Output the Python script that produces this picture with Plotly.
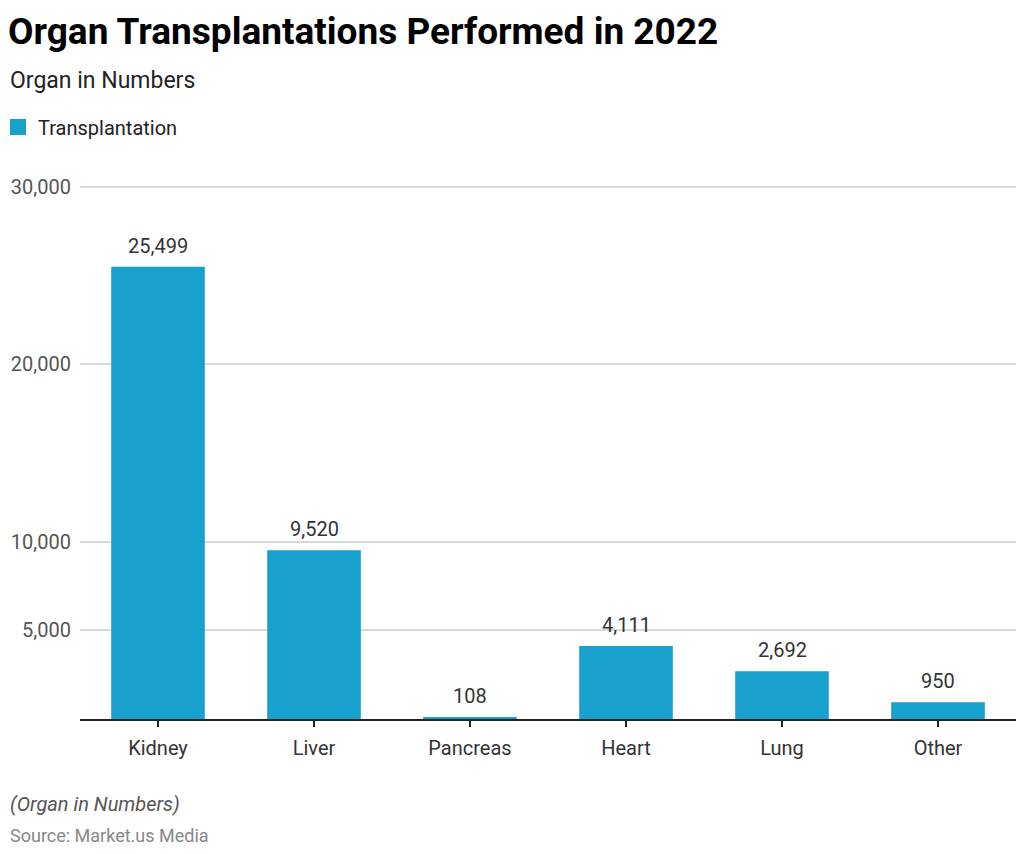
import plotly.graph_objects as go

categories = ["Kidney", "Liver", "Pancreas", "Heart", "Lung", "Other"]
values = [25499, 9520, 108, 4111, 2692, 950]
tick_vals = [5000, 10000, 20000, 30000]
tick_text = ["5,000", "10,000", "20,000", "30,000"]
y_max = 30000

BAR = "#19a1cd"
W, H = 1024, 854
HEAD = 3  # px of headroom above the top gridline
ML, MR, MT, MB = 80, 8, 187 - HEAD, 135
PW = W - ML - MR
PH = H - MT - MB
y_top = y_max * (1 + HEAD / (H - MB - 187))

def px_x(px):
    return (px - ML) / PW

def px_y(py):
    return (H - MB - py) / PH

fig = go.Figure()
fig.add_trace(go.Bar(
    x=categories, y=values, name="Transplantation",
    marker=dict(color=BAR, line=dict(width=0)),
    showlegend=False,
))
fig.add_trace(go.Scatter(
    x=[None], y=[None], mode="markers", name="Transplantation",
    marker=dict(symbol="square", size=16, color=BAR),
    showlegend=True, hoverinfo="skip",
))

for c, v in zip(categories, values):
    fig.add_annotation(x=c, y=v, xref="x", yref="y", text=f"{v:,}",
                       showarrow=False, yanchor="bottom", yshift=7,
                       font=dict(family="Roboto", size=20, color="#333333"))

fig.add_annotation(xref="paper", yref="paper", x=px_x(8), y=px_y(81),
                   xanchor="left", yanchor="middle", showarrow=False,
                   text="Organ in Numbers",
                   font=dict(family="Roboto", size=23, color="#222222"))
fig.add_annotation(xref="paper", yref="paper", x=px_x(8), y=px_y(804),
                   xanchor="left", yanchor="middle", showarrow=False,
                   text="<i>(Organ in Numbers)</i>",
                   font=dict(family="Roboto", size=20, color="#555555"))
fig.add_annotation(xref="paper", yref="paper", x=px_x(8), y=px_y(835),
                   xanchor="left", yanchor="middle", showarrow=False,
                   text="Source: Market.us Media",
                   font=dict(family="Roboto", size=18, color="#888888"))

fig.update_layout(
    width=W, height=H,
    margin=dict(l=ML, r=MR, t=MT, b=MB, autoexpand=False),
    paper_bgcolor="white", plot_bgcolor="white",
    font=dict(family="Roboto", color="#333333"),
    title=dict(text="<b>Organ Transplantations Performed in 2022</b>",
               x=8 / W, xanchor="left", xref="container",
               y=1 - 31 / H, yanchor="middle", yref="container",
               pad=dict(l=0, r=0, t=0, b=0),
               font=dict(family="Roboto", size=37, color="#000000")),
    bargap=0.4,
    showlegend=True,
    legend=dict(orientation="h", x=px_x(-2), y=px_y(127), xanchor="left",
                yanchor="middle", font=dict(family="Roboto", size=20, color="#222222"),
                bgcolor="rgba(0,0,0,0)", itemwidth=30),
    xaxis=dict(showline=True, linecolor="#222222", linewidth=1.5,
               ticks="outside", ticklen=6, tickcolor="#222222", tickwidth=1.5,
               tickfont=dict(family="Roboto", size=20, color="#333333"),
               ticklabelstandoff=4, showgrid=False, automargin=False),
    yaxis=dict(range=[0, y_top], tickvals=tick_vals, ticktext=tick_text,
               showgrid=True, gridcolor="#d9d9d9", gridwidth=1.5,
               zeroline=False, showline=False, ticks="",
               tickfont=dict(family="Roboto", size=20, color="#555555"),
               ticklabelstandoff=8, automargin=False),
)

fig.write_html("out.html", config={"displayModeBar": False},
               post_script="document.body.style.margin='0';")
